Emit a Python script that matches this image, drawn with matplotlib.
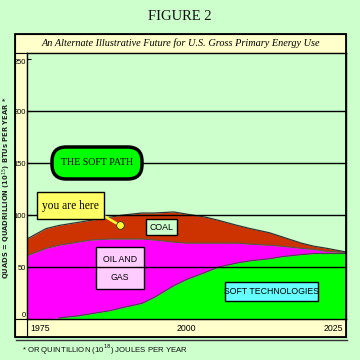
import matplotlib
matplotlib.use("Agg")
import matplotlib.pyplot as plt
from matplotlib.patches import FancyBboxPatch, Rectangle
from matplotlib.lines import Line2D
import numpy as np

# ---- data (quads per year) ----
years = [1975, 1978, 1980, 1983, 1985, 1988, 1990, 1993, 1995, 1998, 2000,
         2003, 2005, 2008, 2010, 2013, 2015, 2018, 2020, 2022, 2025]
soft_tech = [0, 0, 1, 3, 5, 8, 11, 15, 21, 32, 38,
             45, 50, 54, 56, 58, 60, 62, 63, 63, 63]
oil_gas = [61, 68, 70, 71, 71, 69, 66, 62, 55, 42, 35,
           28, 23, 19, 16, 13, 10, 6, 4, 2, 1]
coal = [16, 19, 19, 19, 19, 21, 23, 25, 26, 29, 28,
        25, 22, 17, 15, 12, 9, 5, 3, 3, 0.5]
y_ticks = [0, 50, 100, 150, 200, 250]
x_labels = ["1975", "2000", "2025"]
now_point = (1989.6, 90)

BG = "#ccffcc"
STRIP = "#ffffcc"
NARROW = ["Liberation Sans", "DejaVu Sans"]
SERIF = ["Liberation Serif", "DejaVu Serif"]

fig = plt.figure(figsize=(3.6, 3.6), dpi=100)
fig.patch.set_facecolor(BG)

def fr(x0, y0, x1, y1):
    # pixel box -> figure rect
    return [x0 / 360, 1 - y1 / 360, (x1 - x0) / 360, (y1 - y0) / 360]

# title
fig.text(180 / 360, 1 - 16 / 360, "FIGURE 2", family=SERIF, fontsize=10.5,
         ha="center", va="center", color="#111111")

# title strip
axt = fig.add_axes(fr(15, 34, 346, 53))
axt.set_facecolor(STRIP)
axt.set_xticks([]); axt.set_yticks([])
axt.text(0.5, 0.5, "An Alternate Illustrative Future for U.S. Gross Primary Energy Use",
         family=SERIF, style="italic", fontsize=7.4, ha="center", va="center",
         transform=axt.transAxes, color="black")

# y strip
axy = fig.add_axes(fr(15, 53, 27, 319))
axy.set_facecolor(STRIP)
axy.set_xticks([]); axy.set_yticks([])

# x strip
axx = fig.add_axes(fr(27, 319, 346, 337))
axx.set_facecolor(STRIP)
axx.set_xticks([]); axx.set_yticks([])
axx.set_xlim(0, 1); axx.set_ylim(0, 1)
axx.text(0.01, 0.45, x_labels[0], family=NARROW, fontsize=6.3, ha="left", va="center")
axx.text(0.5, 0.45, x_labels[1], family=NARROW, fontsize=6.3, ha="center", va="center")
axx.text(0.99, 0.45, x_labels[2], family=NARROW, fontsize=6.3, ha="right", va="center")
axc = fig.add_axes(fr(15, 319, 27, 337))
axc.set_facecolor(STRIP)
axc.set_xticks([]); axc.set_yticks([])

# main plot
ax = fig.add_axes(fr(27, 53, 346, 319))
ax.set_facecolor(BG)
ax.set_xlim(1975, 2025)
ax.set_ylim(0, 256)

yr = np.array(years, dtype=float)
s = np.array(soft_tech, dtype=float)
o = s + np.array(oil_gas, dtype=float)
c = o + np.array(coal, dtype=float)
ax.fill_between(yr, 0, s, color="#00ff00", lw=0, zorder=1)
ax.fill_between(yr, s, o, color="#ff00ff", lw=0, zorder=1)
ax.fill_between(yr, o, c, color="#cc3300", lw=0, zorder=1)
mask = s > 0.5
ax.plot(yr[mask], s[mask], color="#444444", lw=0.8, zorder=1.5)
ax.plot(yr, o, color="#555555", lw=0.8, zorder=1.5)
ax.plot(yr, c, color="#333333", lw=0.9, zorder=1.5)

for t in y_ticks[1:-1]:
    ax.axhline(t, color="black", lw=1.0, zorder=3)

ax.set_xticks([])
ax.set_yticks(y_ticks)
ax.set_yticklabels([str(t) for t in y_ticks], family=NARROW, fontsize=5.4)
ax.tick_params(axis="y", direction="in", length=3, width=0.8, pad=0.8)
tl = ax.get_yticklabels()
tl[0].set_va("bottom")
tl[-1].set_va("top")
for sp in ax.spines.values():
    sp.set_linewidth(1.0)

# labels / boxes in pixel-based figure coords
def box(x0, y0, x1, y1, fc, lw=1.0, style="square,pad=0", z=5):
    r = fr(x0, y0, x1, y1)
    p = FancyBboxPatch((r[0], r[1]), r[2], r[3], boxstyle=style,
                       transform=fig.transFigure, fc=fc, ec="black", lw=lw,
                       zorder=z, clip_on=False)
    ax.add_patch(p)
    return ((x0 + x1) / 2 / 360, 1 - (y0 + y1) / 2 / 360)

cx, cy = box(52, 147, 142, 179, "#00ff00", lw=2.5,
             style="round,pad=0,rounding_size=0.04", z=5)
ax.text(cx, cy, "THE SOFT PATH", family=SERIF, fontsize=7.2, ha="center",
        va="center", transform=fig.transFigure, zorder=6)

cx, cy = box(37, 192, 104, 219, "#ffff66", lw=1.0, z=5)
ax.text(cx, cy, "you are here", family=SERIF, fontsize=8.3, ha="center",
        va="center", transform=fig.transFigure, zorder=6)
# pointer line to the dot
disp = ax.transData.transform(now_point)
fpt = fig.transFigure.inverted().transform(disp)
ax.add_line(Line2D([104 / 360, fpt[0]], [1 - 216 / 360, fpt[1]],
                   transform=fig.transFigure, color="#ffff33", lw=1.8, zorder=4))
ax.plot([now_point[0]], [now_point[1]], "o", ms=5.5, mfc="#ffff33",
        mec="#333333", mew=0.6, zorder=5)

cx, cy = box(146, 219, 177, 235, BG, lw=1.0, z=5)
ax.text(cx, cy, "COAL", family=NARROW, fontsize=6.3, ha="center", va="center",
        transform=fig.transFigure, zorder=6)

cx, cy = box(96, 247, 144, 289, "#ffccff", lw=1.0, z=2)
ax.text(cx, 1 - 260 / 360, "OIL AND", family=NARROW, fontsize=6.3, ha="center",
        va="center", transform=fig.transFigure, zorder=2.5)
ax.text(cx, 1 - 277 / 360, "GAS", family=NARROW, fontsize=6.3, ha="center",
        va="center", transform=fig.transFigure, zorder=2.5)

cx, cy = box(225, 282, 318, 301, "#66ffff", lw=1.0, z=5)
ax.text(cx, cy, "SOFT TECHNOLOGIES", family=NARROW, fontsize=6.3, ha="center",
        va="center", transform=fig.transFigure, zorder=6)

# y label and footnote
fig.text(6.5 / 360, 1 - 188 / 360,
         "QUADS = QUADRILLION (10$^{15}$) BTUs PER YEAR *",
         rotation=90, family="DejaVu Sans", fontweight="bold", fontsize=4.9,
         ha="center", va="center", color="#222222")
fig.text(22 / 360, 1 - 350 / 360,
         "* OR QUINTILLION (10$^{18}$) JOULES PER YEAR",
         family=NARROW, fontsize=5.6, ha="left", va="center", color="#111111")

# outer frame with shadow
fig.add_artist(Rectangle((15 / 360, 1 - 337 / 360), 331 / 360, 303 / 360,
                         transform=fig.transFigure, fill=False, ec="black", lw=1.3))
fig.add_artist(Line2D([16 / 360, 347 / 360], [1 - 339.5 / 360, 1 - 339.5 / 360],
                      transform=fig.transFigure, color="#333333", lw=1.0))

fig.savefig("out.png", dpi=100, facecolor=BG)
